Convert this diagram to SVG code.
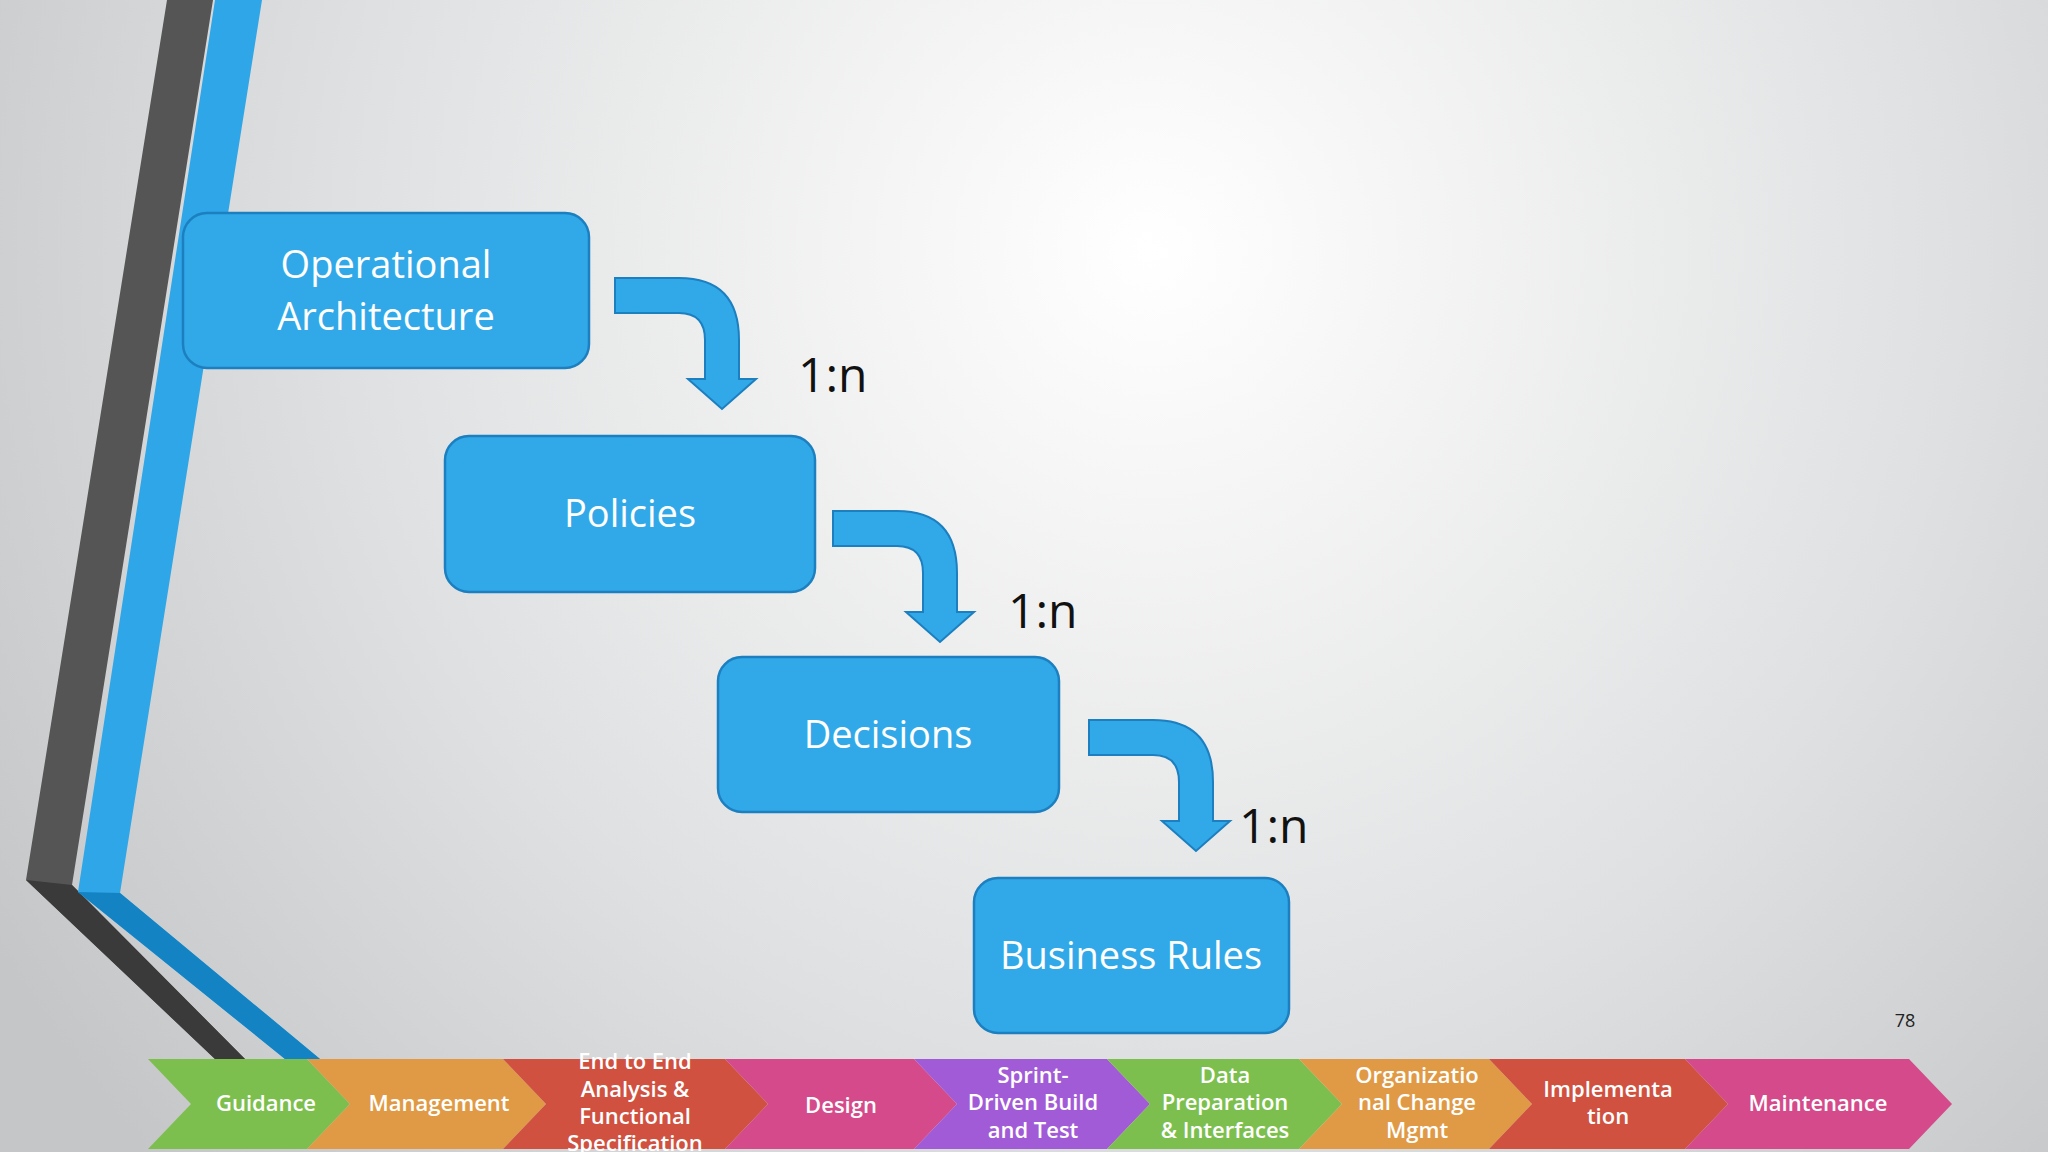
<svg xmlns="http://www.w3.org/2000/svg" width="2048" height="1152" viewBox="0 0 2048 1152">
<defs>
<radialGradient id="bg" cx="1150" cy="250" r="1350" gradientUnits="userSpaceOnUse">
<stop offset="0" stop-color="#ffffff"/><stop offset="0.6" stop-color="#dfe0e1"/><stop offset="1" stop-color="#c4c6c8"/>
</radialGradient>
<path id="arr" d="M0,0 L64,0 Q124,0 124,62 L124,101 L141,101 L107,131 L73,101 L90,101 L90,62 Q90,35 64,35 L0,35 Z"/>
<style>
.box{fill:#31a9e8;stroke:#1b7fc0;stroke-width:2.5}
.bt{font-family:"Open Sans","Noto Sans",sans-serif;font-size:38px;fill:#fff;text-anchor:middle}
.arw{fill:#31a9e8;stroke:#1b7fc0;stroke-width:2}
.lab{font-family:"Open Sans","Noto Sans",sans-serif;font-size:48px;fill:#111}
.ct{font-family:"Open Sans","Noto Sans",sans-serif;font-weight:600;font-size:22px;fill:#fff;text-anchor:middle}
</style>
</defs>
<rect width="2048" height="1152" fill="url(#bg)"/>
<g id="decor">
<polygon points="167,0 213,0 72,885 245,1059 215,1059 26,880" fill="#555"/>
<polygon points="26,880 72,885 245,1059 215,1059" fill="#3a3a3a"/>
<polygon points="215,0 262,0 120,893 320,1059 285,1059 78,892" fill="#2ea6e8"/>
<polygon points="78,892 120,893 320,1059 285,1059" fill="#1483c4"/>
</g>
<g id="connectors">
<use href="#arr" class="arw" transform="translate(615,278)"/>
<use href="#arr" class="arw" transform="translate(833,511)"/>
<use href="#arr" class="arw" transform="translate(1089,720)"/>
<text class="lab" x="798" y="392">1:n</text>
<text class="lab" x="1008" y="628">1:n</text>
<text class="lab" x="1239" y="843">1:n</text>
</g>
<g id="n1"><rect class="box" x="183" y="213" width="406" height="155" rx="24"/><text class="bt" x="386" y="278">Operational</text><text class="bt" x="386" y="330">Architecture</text></g>
<g id="n2"><rect class="box" x="445" y="436" width="370" height="156" rx="24"/><text class="bt" x="630" y="527">Policies</text></g>
<g id="n3"><rect class="box" x="718" y="657" width="341" height="155" rx="24"/><text class="bt" x="888" y="748">Decisions</text></g>
<g id="n4"><rect class="box" x="974" y="878" width="315" height="155" rx="24"/><text class="bt" x="1131" y="969">Business Rules</text></g>
<text x="1905" y="1027" font-family="Open Sans, sans-serif" font-size="18" fill="#222" text-anchor="middle">78</text>
<g id="process">
<polygon points="148,1059 307,1059 350,1104 307,1149 148,1149 191,1104" fill="#7dbf4e"/>
<polygon points="307,1059 503,1059 546,1104 503,1149 307,1149 350,1104" fill="#e09a45"/>
<polygon points="503,1059 725,1059 768,1104 725,1149 503,1149 546,1104" fill="#d0513f"/>
<polygon points="725,1059 914,1059 957,1104 914,1149 725,1149 768,1104" fill="#d44a8a"/>
<polygon points="914,1059 1107,1059 1150,1104 1107,1149 914,1149 957,1104" fill="#a25bd6"/>
<polygon points="1107,1059 1299,1059 1342,1104 1299,1149 1107,1149 1150,1104" fill="#7dbf4e"/>
<polygon points="1299,1059 1489,1059 1532,1104 1489,1149 1299,1149 1342,1104" fill="#e09a45"/>
<polygon points="1489,1059 1685,1059 1728,1104 1685,1149 1489,1149 1532,1104" fill="#d0513f"/>
<polygon points="1685,1059 1909,1059 1952,1104 1909,1149 1685,1149 1728,1104" fill="#d44a8a"/>
<text class="ct" x="266" y="1111">Guidance</text>
<text class="ct" x="439" y="1111">Management</text>
<text class="ct" x="635" y="1069">End to End</text>
<text class="ct" x="635" y="1097">Analysis &amp;</text>
<text class="ct" x="635" y="1124">Functional</text>
<text class="ct" x="635" y="1151">Specification</text>
<text class="ct" x="841" y="1113">Design</text>
<text class="ct" x="1033" y="1083">Sprint-</text>
<text class="ct" x="1033" y="1110">Driven Build</text>
<text class="ct" x="1033" y="1138">and Test</text>
<text class="ct" x="1225" y="1083">Data</text>
<text class="ct" x="1225" y="1110">Preparation</text>
<text class="ct" x="1225" y="1138">&amp; Interfaces</text>
<text class="ct" x="1417" y="1083">Organizatio</text>
<text class="ct" x="1417" y="1110">nal Change</text>
<text class="ct" x="1417" y="1138">Mgmt</text>
<text class="ct" x="1608" y="1097">Implementa</text>
<text class="ct" x="1608" y="1124">tion</text>
<text class="ct" x="1818" y="1111">Maintenance</text>
</g>
</svg>
